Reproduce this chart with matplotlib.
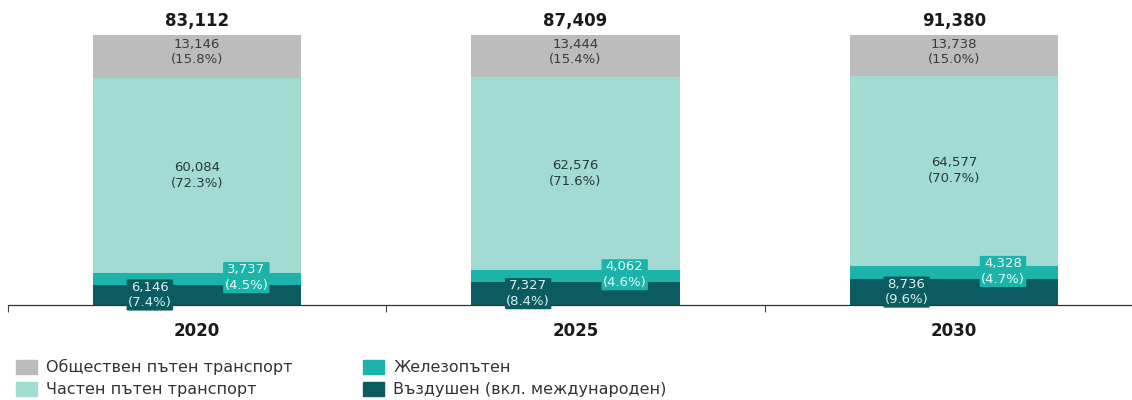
import matplotlib.pyplot as plt
from matplotlib.patches import Patch

# Данни
години = ['2020', '2025', '2030']
общо = [83112, 87409, 91380]
въздушен = [6146, 7327, 8736]
железопътен = [3737, 4062, 4328]
частен = [60084, 62576, 64577]
обществен = [13146, 13444, 13738]

имена = ['Въздушен (вкл. международен)', 'Железопътен',
         'Частен пътен транспорт', 'Обществен пътен транспорт']
цветове = ['#0b5b60', '#1cb3aa', '#a2dbd2', '#bcbcbc']

fig = plt.figure(figsize=(11.32, 4.0), dpi=100)
ax = fig.add_axes([8 / 1132, 95 / 400, 1135 / 1132, 270 / 400])

x = range(len(години))
серии = [въздушен, железопътен, частен, обществен]
база = [0.0] * len(години)
for i, (стойности, цвят) in enumerate(zip(серии, цветове)):
    проценти = [v / t * 100 for v, t in zip(стойности, общо)]
    ax.bar(x, проценти, width=0.55, bottom=база, color=цвят, linewidth=0)
    for j in x:
        среда = база[j] + проценти[j] / 2
        текст = f'{стойности[j]:,}\n({проценти[j]:.1f}%)'
        if i == 0:
            ax.text(j - 0.125, среда, текст, ha='center', va='center', fontsize=9.5,
                    color='#d6f1ee', linespacing=1.25,
                    bbox=dict(boxstyle='round,pad=0.1', fc=цвят, ec='none'))
        elif i == 1:
            ax.text(j + 0.13, среда + 0.5, текст, ha='center', va='center', fontsize=9.5,
                    color='#e8fbf8', linespacing=1.25,
                    bbox=dict(boxstyle='round,pad=0.1', fc=цвят, ec='none'))
        elif i == 2:
            ax.text(j, среда, текст, ha='center', va='center', fontsize=9.5,
                    color='#2a3a3a', linespacing=1.3)
        else:
            ax.text(j, база[j] + проценти[j] - 1.0, текст, ha='center', va='top',
                    fontsize=9.5, color='#3a3a3a', linespacing=1.25)
        база[j] += проценти[j]

for j in x:
    ax.text(j, 102, f'{общо[j]:,}', ha='center', va='bottom', fontsize=12,
            fontweight='bold', color='#1a1a1a')

ax.set_xlim(-0.5, len(години) - 0.5)
ax.set_ylim(0, 100)
ax.set_xticks(list(x))
ax.set_xticklabels(години, fontsize=12, fontweight='bold', color='#1a1a1a')
ax.set_xticks([k - 0.5 for k in range(len(години) + 1)], minor=True)
ax.tick_params(axis='x', which='major', length=0, pad=12)
ax.tick_params(axis='x', which='minor', length=5, width=0.8, color='#444444')
ax.set_yticks([])
for s in ['top', 'right', 'left']:
    ax.spines[s].set_visible(False)
ax.spines['bottom'].set_color('#333333')
ax.spines['bottom'].set_linewidth(0.9)

ръчки = [Patch(color=цветове[k], label=имена[k]) for k in [3, 2, 1, 0]]
fig.legend(handles=ръчки, ncol=2, loc='upper left', bbox_to_anchor=(16 / 1132, 1 - 359 / 400),
           frameon=False, fontsize=11.5, handlelength=1.3, handleheight=1.0,
           handletextpad=0.6, columnspacing=4.4, labelspacing=0.42, labelcolor='#333333',
           borderaxespad=0, borderpad=0)

fig.savefig('out.png', dpi=100)
